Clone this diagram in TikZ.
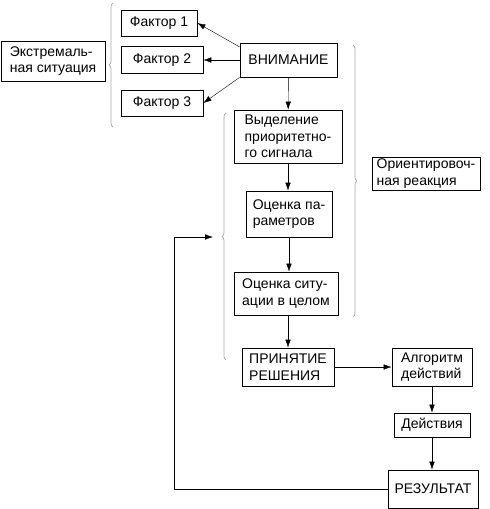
\documentclass[tikz,border=0pt]{standalone}
\usepackage{fontspec}
\setmainfont{Liberation Sans}
\usepackage{tikz}
\usetikzlibrary{arrows.meta}
\usetikzlibrary{decorations.pathreplacing}

\begin{document}
\begin{tikzpicture}[x=1pt,y=-1pt,
    font=\fontsize{14}{16.5}\selectfont,
    >={Latex[length=8pt,width=5.5pt]},
    box/.style={draw,line width=0.8pt,inner sep=2pt,align=left},
    brc/.style={draw=gray!70,line width=0.7pt,decorate,decoration={brace,amplitude=4pt}}]
      \useasboundingbox (0,0) rectangle (490,509);
      \node[box,minimum width=104,minimum height=40] (ext) at (53,61) {Экстремаль-\\ная ситуация};
      \node[box,minimum width=76,minimum height=26] (f1) at (159,23) {Фактор 1};
      \node[box,minimum width=82,minimum height=27] (f2) at (162,60) {Фактор 2};
      \node[box,minimum width=82,minimum height=26] (f3) at (162,103) {Фактор 3};
      \node[box,minimum width=97,minimum height=34] (vn) at (288.5,60) {ВНИМАНИЕ};
      \node[box,minimum width=108,minimum height=53] (vy) at (288,136.5) {Выделение\\приоритетно-\\го сигнала};
      \node[box,minimum width=86,minimum height=46] (op) at (289,214) {Оценка па-\\раметров};
      \node[box,minimum width=104,minimum height=43] (os) at (286,293.5) {Оценка ситу-\\ации в целом};
      \node[box,minimum width=92,minimum height=38] (pr) at (288,367) {ПРИНЯТИЕ\\РЕШЕНИЯ};
      \node[box,minimum width=80,minimum height=38] (al) at (432,367) {Алгоритм\\действий};
      \node[box,minimum width=76,minimum height=24] (de) at (432,425) {Действия};
      \node[box,minimum width=90,minimum height=38] (re) at (433,489) {РЕЗУЛЬТАТ};
      \node[box,minimum width=108,minimum height=27] (ori) at (426,173.5) {Ориентировоч-\\ная реакция};
      \coordinate (fb) at (213,237);
      \coordinate (lc) at (174,489);
      % braces
      \draw [brc] (113,127) -- (113,3);
      \draw [brc] (226,360) -- (226,113);
      \draw [brc] (353,45) -- (353,317);
      % arrows
      \draw [->] (vn.165) -- (f1.east);
      \draw [->] (vn.west) -- (f2.east);
      \draw [->] (vn.south west) -- (f3.east);
      \draw [->] (vn) -- (vy);
      \draw [->] (vy) -- (vy |- op.north);
      \draw [->] (op) -- (op |- os.north);
      \draw [->] (os) -- (os.south -| pr) -- (pr);
      \draw [->] (pr) -- (al);
      \draw [->] (al) -- (de);
      \draw [->] (de) -- (de |- re.north);
      \draw [->] (re.west) -- (lc) |- (fb);
    \end{tikzpicture}
\end{document}
